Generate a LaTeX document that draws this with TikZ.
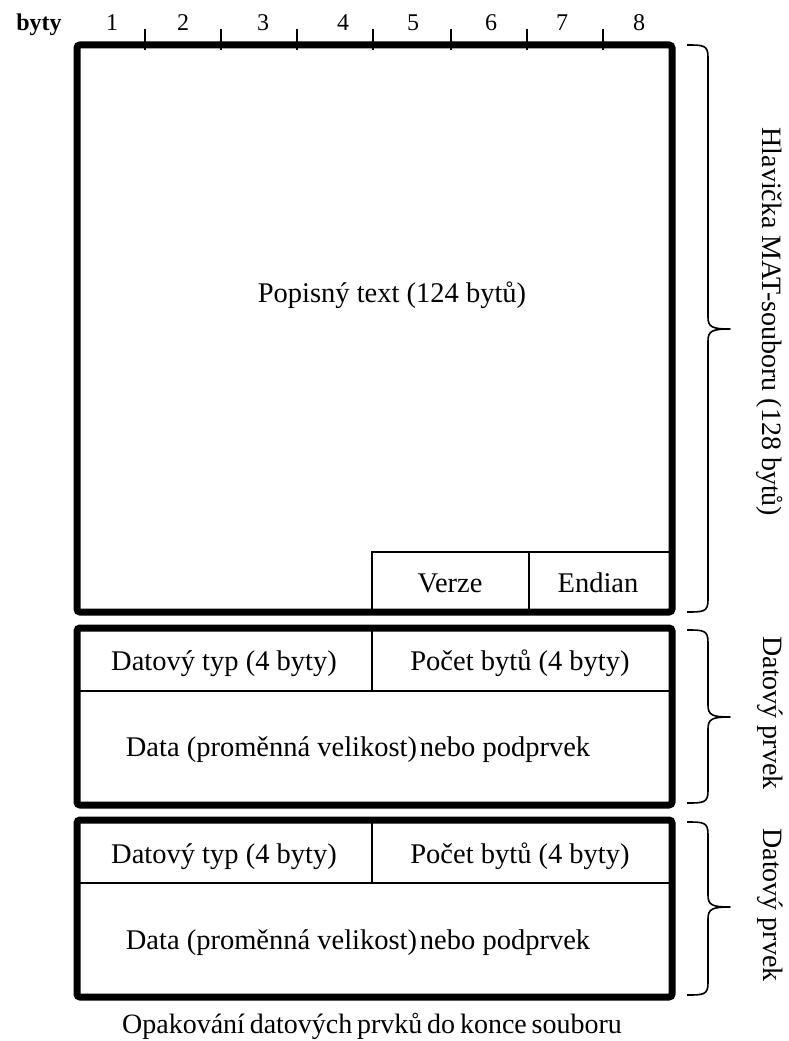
\documentclass[tikz,border=0pt]{standalone}
\usepackage{fontspec}
\setmainfont{Liberation Serif}
\begin{document}
\begin{tikzpicture}[x=1pt,y=-1pt,
  thickbox/.style={line width=7pt,rounded corners=3pt},
  thinline/.style={line width=1.3pt},
  tickline/.style={line width=2pt},
  bracepath/.style={line width=1.6pt,line join=round},
  lbl/.style={inner sep=0pt,font=\fontsize{28.5}{33}\selectfont},
  numlbl/.style={inner sep=0pt,font=\fontsize{24}{28}\selectfont},
  sidelbl/.style={inner sep=0pt,rotate=-90,font=\fontsize{28}{33}\selectfont}]
\useasboundingbox (0,0) rectangle (789,1041);
% corners
\coordinate (b1tl) at (77,45);  \coordinate (b1br) at (672,612);
\coordinate (b2tl) at (77,628); \coordinate (b2br) at (672,805);
\coordinate (b3tl) at (77,820); \coordinate (b3br) at (672,997);
% thin internal lines
\coordinate (vtl) at (372,552); \coordinate (vbl) at (372,612);
\coordinate (vtr) at (672,552);
\coordinate (vmt) at (529,552); \coordinate (vmb) at (529,612);
\draw[thinline] (vbl) -- (vtl) -- (vtr);
\draw[thinline] (vmt) -- (vmb);
\coordinate (h2l) at (77,691); \coordinate (h2r) at (672,691);
\coordinate (d2t) at (372,628); \coordinate (d2b) at (372,691);
\draw[thinline] (h2l) -- (h2r);
\draw[thinline] (d2t) -- (d2b);
\coordinate (h3l) at (77,883); \coordinate (h3r) at (672,883);
\coordinate (d3t) at (372,820); \coordinate (d3b) at (372,883);
\draw[thinline] (h3l) -- (h3r);
\draw[thinline] (d3t) -- (d3b);
% thick boxes
\draw[thickbox] (b1tl) rectangle (b1br);
\draw[thickbox] (b2tl) rectangle (b2br);
\draw[thickbox] (b3tl) rectangle (b3br);
% ruler ticks
\foreach \x in {145,221,297,373,451,527,603}{
  \draw[tickline] (\x,29) -- (\x,50);
}
% ruler labels
\node[inner sep=0pt,font=\bfseries\fontsize{24}{28}\selectfont,anchor=base] (byty) at (39,31) {byty};
\node[numlbl,anchor=base] (n1) at (112,31) {1};
\node[numlbl,anchor=base] (n2) at (183,31) {2};
\node[numlbl,anchor=base] (n3) at (263,31) {3};
\node[numlbl,anchor=base] (n4) at (343,31) {4};
\node[numlbl,anchor=base] (n5) at (413,31) {5};
\node[numlbl,anchor=base] (n6) at (491,31) {6};
\node[numlbl,anchor=base] (n7) at (562,31) {7};
\node[numlbl,anchor=base] (n8) at (639,31) {8};
% box texts
\node[lbl,anchor=base] (popis) at (392,302) {Popisný text (124 bytů)};
\node[lbl,anchor=base] (verze) at (450,592) {Verze};
\node[lbl,anchor=base] (endian) at (598,592) {Endian};
\node[lbl,anchor=base] (typ2) at (224,670) {Datový typ (4 byty)};
\node[lbl,anchor=base] (pocet2) at (520,670) {Počet bytů (4 byty)};
\node[lbl,anchor=base] (data2) at (358,756) {Data (proměnná velikost)\hspace{0.1em}nebo podprvek};
\node[lbl,anchor=base] (typ3) at (224,863) {Datový typ (4 byty)};
\node[lbl,anchor=base] (pocet3) at (520,863) {Počet bytů (4 byty)};
\node[lbl,anchor=base] (data3) at (358,949) {Data (proměnná velikost)\hspace{0.1em}nebo podprvek};
\node[lbl,anchor=base,font=\fontsize{28}{33}\selectfont] (opak) at (372,1033) {\spaceskip=0.17em\relax Opakování datových prvků do konce souboru};
% braces
\foreach \ya/\ym/\yb in {45/329/612, 630/717/803, 822/907/995}{
  \draw[bracepath] (687,\ya) .. controls (703,\ya) and (708,\ya) .. (708,\ya+12)
    -- (708,\ym-12) .. controls (708,\ym-2) and (712,\ym) .. (730,\ym)
    .. controls (712,\ym) and (708,\ym+2) .. (708,\ym+12)
    -- (708,\yb-12) .. controls (708,\yb) and (703,\yb) .. (687,\yb);
}
% side labels
\node[sidelbl] (hlav) at (770,322) {Hlavička MAT-souboru (128 bytů)};
\node[sidelbl] (prvek2) at (770,713) {Datový prvek};
\node[sidelbl] (prvek3) at (770,905) {Datový prvek};
\end{tikzpicture}
\end{document}
